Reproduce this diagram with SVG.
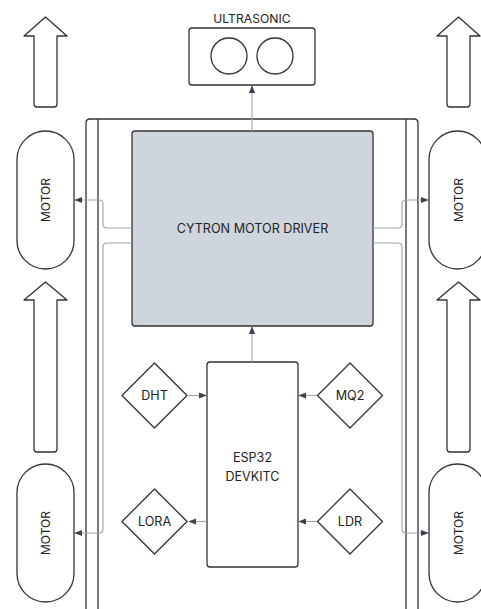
<svg xmlns="http://www.w3.org/2000/svg" width="481" height="609" viewBox="0 0 481 609">
<style>
.s{fill:none;stroke:#333;stroke-width:1.3;stroke-linejoin:round}
.w{fill:#fff;stroke:#333;stroke-width:1.3;stroke-linejoin:round}
.c{fill:none;stroke:#9ea3a8;stroke-width:1.1}
.t{font-family:Inter,"Liberation Sans",sans-serif;font-size:12.6px;fill:#222;text-anchor:middle;dominant-baseline:central}
.m{font-size:12px}
</style>
<defs>
<marker id="ah" viewBox="0 0 10 10" refX="9" refY="5" markerWidth="8" markerHeight="8" markerUnits="userSpaceOnUse" orient="auto">
<path d="M0,1 L10,5 L0,9 Z" fill="#3a4350"/>
</marker>
</defs>
<rect width="481" height="609" fill="#fff"/>
<g id="chassis">
<path class="s" d="M86,612 V123 Q86,119 90,119 H414 Q418,119 418,123 V612"/>
<line class="s" x1="98" y1="119" x2="98" y2="612"/>
<line class="s" x1="406" y1="119" x2="406" y2="612"/>
</g>
<g id="arrow-tl"><path class="w" d="M45.5,17 L67,36 H57 V104 Q57,107 54,107 H37 Q34,107 34,104 V36 H24 Z"/></g>
<g id="arrow-bl"><path class="w" d="M45.5,282 L67,300 H57 V449 Q57,452 54,452 H37 Q34,452 34,449 V300 H24 Z"/></g>
<g id="arrow-tr"><path class="w" d="M458.5,17 L480,36 H470 V104 Q470,107 467,107 H450 Q447,107 447,104 V36 H437 Z"/></g>
<g id="arrow-br"><path class="w" d="M458.5,282 L480,300 H470 V449 Q470,452 467,452 H450 Q447,452 447,449 V300 H437 Z"/></g>
<g id="ultrasonic">
<text class="t" x="252" y="18" style="font-size:12.2px">ULTRASONIC</text>
<rect class="w" x="189" y="28" width="126" height="57" rx="3"/>
<circle class="s" cx="229" cy="56" r="18"/>
<circle class="s" cx="275" cy="56" r="18"/>
</g>
<g id="motor-driver">
<rect x="132" y="131" width="241" height="195" rx="3" fill="#cfd5dd" stroke="#333" stroke-width="1.3"/>
<text class="t" x="252.5" y="228">CYTRON MOTOR DRIVER</text>
</g>
<g id="motor-tl"><rect class="w" x="17" y="131" width="57" height="138" rx="28.5"/><text class="t m" transform="translate(45.5,200) rotate(-90)">MOTOR</text></g>
<g id="motor-bl"><rect class="w" x="17" y="464" width="57" height="138" rx="28.5"/><text class="t m" transform="translate(45.5,533) rotate(-90)">MOTOR</text></g>
<g id="motor-tr"><rect class="w" x="429" y="131" width="57" height="138" rx="28.5"/><text class="t m" transform="translate(458.5,200) rotate(-90)">MOTOR</text></g>
<g id="motor-br"><rect class="w" x="429" y="464" width="57" height="138" rx="28.5"/><text class="t m" transform="translate(458.5,533) rotate(-90)">MOTOR</text></g>
<g id="esp32">
<rect class="w" x="207" y="362" width="91" height="205" rx="3"/>
<text class="t" x="252.5" y="457">ESP32</text>
<text class="t" x="252.5" y="476">DEVKITC</text>
</g>
<g id="dht"><path class="w" d="M154.5,363 L187,395.5 L154.5,428 L122,395.5 Z"/><text class="t" x="154.5" y="395.5">DHT</text></g>
<g id="mq2"><path class="w" d="M350,363 L382.5,395.5 L350,428 L317.5,395.5 Z"/><text class="t" x="350" y="395.5">MQ2</text></g>
<g id="lora"><path class="w" d="M154.5,489 L187,521.5 L154.5,554 L122,521.5 Z"/><text class="t" x="154.5" y="521.5">LORA</text></g>
<g id="ldr"><path class="w" d="M350,489 L382.5,521.5 L350,554 L317.5,521.5 Z"/><text class="t" x="350" y="521.5">LDR</text></g>
<g id="connectors">
<line class="c" x1="252" y1="131" x2="252" y2="86" marker-end="url(#ah)"/>
<line class="c" x1="252" y1="362" x2="252" y2="327" marker-end="url(#ah)"/>
<path class="c" d="M132,228 H107 Q103,228 103,224 V204 Q103,200 99,200 H75" marker-end="url(#ah)"/>
<path class="c" d="M132,243 H107 Q103,243 103,247 V529 Q103,533 99,533 H75" marker-end="url(#ah)"/>
<path class="c" d="M373,228 H398 Q402,228 402,224 V204 Q402,200 406,200 H428" marker-end="url(#ah)"/>
<path class="c" d="M373,243 H398 Q402,243 402,247 V529 Q402,533 406,533 H428" marker-end="url(#ah)"/>
<line class="c" x1="188" y1="395.5" x2="206" y2="395.5" marker-end="url(#ah)"/>
<line class="c" x1="317" y1="395.5" x2="299" y2="395.5" marker-end="url(#ah)"/>
<line class="c" x1="207" y1="521.5" x2="189" y2="521.5" marker-end="url(#ah)"/>
<line class="c" x1="317" y1="521.5" x2="299" y2="521.5" marker-end="url(#ah)"/>
</g>
</svg>
